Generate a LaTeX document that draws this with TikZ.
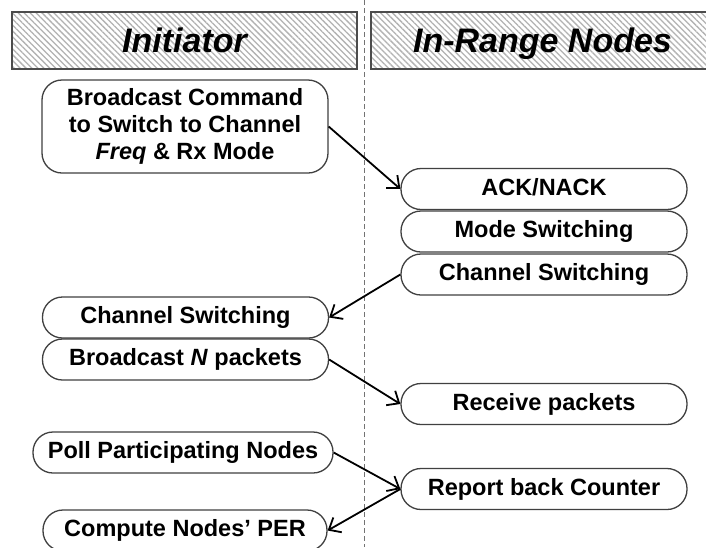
\documentclass[tikz,border=0pt]{standalone}
\usepackage{fontspec}
\setmainfont{Liberation Sans}
\usetikzlibrary{arrows.meta,patterns.meta}
\tikzset{
  lane/.style={draw=black!70, line width=1.3pt,
    pattern={Lines[angle=-45,distance=4.2pt,line width=1.3pt]}, pattern color=black!30,
    minimum height=57pt, inner sep=0pt, text height=25pt, text depth=2pt,
    font=\fontsize{34}{38}\selectfont\bfseries\itshape},
  pill/.style={draw=black!75, line width=1.3pt, fill=white,
    rounded corners=20pt, minimum width=286pt, minimum height=41pt, inner sep=0pt,
    text height=17pt, text depth=5pt,
    font=\fontsize{23.5}{27}\selectfont\bfseries},
  flow/.style={draw=black, line width=1.8pt, -{Straight Barb[length=10pt,width=17pt,line width=1.8pt]}},
}
\begin{document}
\begin{tikzpicture}[x=1pt,y=-1pt]
  \useasboundingbox (0,0) rectangle (706,547);
  \clip (0,0) rectangle (706,547);
  \fill[white] (0,0) rectangle (706,547);

  % lane headers
  \node[lane, minimum width=345pt] (hinit) at (184.5,40.5) {Initiator};
  \node[lane, minimum width=343pt] (hnodes) at (542.5,40.5) {In-Range Nodes};

  % lane separator
  \coordinate (sepTop) at (364,0);
  \coordinate (sepBot) at (364,547);
  \draw[black!55, line width=0.9pt, dash pattern=on 5pt off 3pt] (sepTop) -- (sepBot);

  % initiator steps
  \node[pill, minimum height=93pt, text height=, text depth=, align=center] (cmd) at (185,126.5)
    {Broadcast Command\\to Switch to Channel\\\textit{Freq} \& Rx Mode};
  \node[pill] (chL) at (185.5,317.5) {Channel Switching};
  \node[pill] (bcN) at (185.5,359.5) {Broadcast \textit{N} packets};
  \node[pill, minimum width=300pt] (poll) at (183,452.5) {Poll Participating Nodes};
  \node[pill, minimum width=284pt] (comp) at (185,530.5) {Compute Nodes’ PER};

  % in-range node steps
  \node[pill] (ack) at (544,189) {ACK/NACK};
  \node[pill] (mode) at (544,231.5) {Mode Switching};
  \node[pill] (chR) at (544,274.5) {Channel Switching};
  \node[pill] (rcv) at (544,404) {Receive packets};
  \node[pill] (rep) at (544,489) {Report back Counter};

  % message exchanges
  \draw[flow] (cmd.east) -- (ack.west);
  \draw[flow] (chR.west) -- (chL.east);
  \draw[flow] (bcN.east) -- (rcv.west);
  \draw[flow] (poll.east) -- (rep.west);
  \draw[flow] (rep.west) -- (comp.east);
\end{tikzpicture}
\end{document}
